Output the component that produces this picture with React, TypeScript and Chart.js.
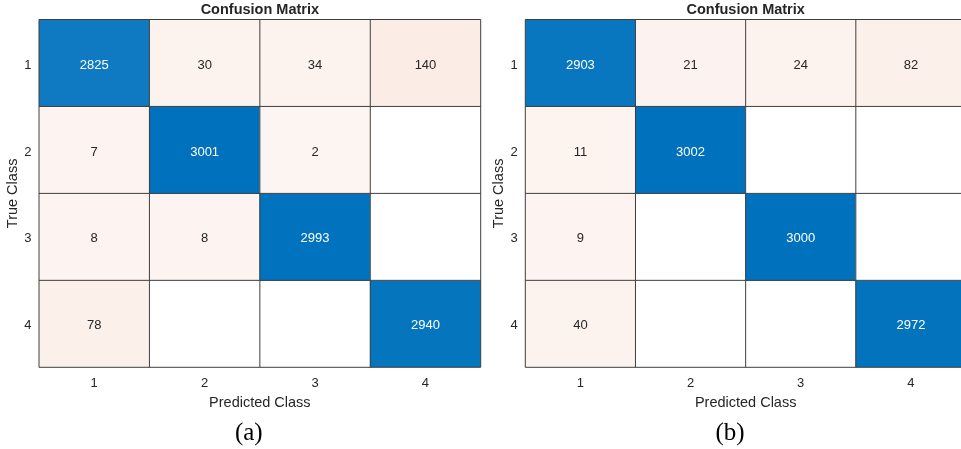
import React, { useEffect, useRef } from 'react';
import { Chart, registerables } from 'chart.js';

Chart.register(...registerables);

// Class labels shared by both axes
const classLabels = ['1', '2', '3', '4'];

// Panel (a): rows are true classes, columns are predicted classes
const countsA1 = [2825, 30, 34, 140];
const countsA2 = [7, 3001, 2, 0];
const countsA3 = [8, 8, 2993, 0];
const countsA4 = [78, 0, 0, 2940];

// Panel (b)
const countsB1 = [2903, 21, 24, 82];
const countsB2 = [11, 3002, 0, 0];
const countsB3 = [9, 0, 3000, 0];
const countsB4 = [40, 0, 0, 2972];

const matrixA = [countsA1, countsA2, countsA3, countsA4];
const matrixB = [countsB1, countsB2, countsB3, countsB4];

const SANS = '"Liberation Sans", Arial, Helvetica, sans-serif';
const SERIF = '"Liberation Serif", "Times New Roman", serif';
const TEXT = '#262626';
const DIAG_RGB = [0, 114, 189];
const OFF_RGB = [217, 83, 25];
const HEIGHT = 449;

function mix(rgb: number[], t: number): string {
  const k = Math.max(0, Math.min(1, t));
  const c = rgb.map((v) => Math.round(255 + (v - 255) * k));
  return `rgb(${c[0]},${c[1]},${c[2]})`;
}

function cellColor(v: number, diagonal: boolean, maxVal: number): string {
  if (v <= 0) return '#ffffff';
  return diagonal ? mix(DIAG_RGB, v / maxVal) : mix(OFF_RGB, 0.06 + v / maxVal);
}

// Thin lines separating the cells, drawn on the chart's own scales
const cellGridPlugin = {
  id: 'cellGrid',
  afterDatasetsDraw(chart: any, _args: any, opts: any) {
    const { ctx, chartArea: a, scales } = chart;
    const n = chart.data.labels.length;
    ctx.save();
    ctx.strokeStyle = opts.color;
    ctx.lineWidth = 1;
    ctx.beginPath();
    for (let i = 0; i <= n; i++) {
      const px = scales.x.getPixelForValue(i - 0.5);
      ctx.moveTo(px, a.top);
      ctx.lineTo(px, a.bottom);
      const py = scales.y.getPixelForValue(i + 0.5);
      ctx.moveTo(a.left, py);
      ctx.lineTo(a.right, py);
    }
    ctx.stroke();
    ctx.restore();
  },
};

// Count written in the middle of every non-empty cell
const cellLabelPlugin = {
  id: 'cellLabels',
  afterDatasetsDraw(chart: any, _args: any, opts: any) {
    const { ctx } = chart;
    ctx.save();
    ctx.font = `${opts.size}px ${SANS}`;
    ctx.textAlign = 'center';
    ctx.textBaseline = 'middle';
    chart.data.datasets.forEach((ds: any, r: number) => {
      const meta = chart.getDatasetMeta(r);
      meta.data.forEach((el: any, c: number) => {
        const v = ds.counts[c];
        if (!v) return;
        const { x, y, base } = el.getProps(['x', 'y', 'base'], true);
        ctx.fillStyle = r === c ? '#ffffff' : TEXT;
        ctx.fillText(String(v), x, (y + base) / 2 + opts.dy);
      });
    });
    ctx.restore();
  },
};

// Sub-figure caption such as "(a)"
const captionPlugin = {
  id: 'caption',
  afterDraw(chart: any, _args: any, opts: any) {
    const { ctx } = chart;
    ctx.save();
    ctx.font = `${opts.size}px ${SERIF}`;
    ctx.fillStyle = '#000000';
    ctx.textAlign = 'center';
    ctx.textBaseline = 'middle';
    ctx.fillText(opts.text, opts.x, opts.y);
    ctx.restore();
  },
};

type PanelProps = {
  matrix: number[][];
  caption: string;
  left: number;
  width: number;
  padRight: number;
  yAxisWidth: number;
  yTitlePad: number;
  captionX: number;
};

function MatrixPanel(p: PanelProps) {
  const ref = useRef<HTMLCanvasElement | null>(null);

  useEffect(() => {
    if (!ref.current) return;
    const maxVal = Math.max(...p.matrix.flat());
    const datasets = p.matrix.map((row, r) => ({
      label: classLabels[r],
      data: row.map(() => [r + 0.5, r + 1.5]),
      counts: row,
      backgroundColor: row.map((v, c) => cellColor(v, r === c, maxVal)),
      borderWidth: 0,
      grouped: false,
      barPercentage: 1,
      categoryPercentage: 1,
    }));

    const chart = new Chart(ref.current, {
      type: 'bar',
      data: { labels: classLabels, datasets: datasets as any },
      plugins: [cellGridPlugin, cellLabelPlugin, captionPlugin],
      options: {
        responsive: false,
        animation: false,
        events: [],
        layout: { padding: { left: 0, right: p.padRight, top: 0, bottom: 31.7 } },
        plugins: {
          legend: { display: false },
          tooltip: { enabled: false },
          title: {
            display: true,
            text: 'Confusion Matrix',
            fullSize: false,
            color: TEXT,
            font: { family: SANS, size: 14.5, weight: 'bold', lineHeight: 1.2 },
            padding: { top: 1, bottom: 1.1 },
          },
          cellGrid: { color: '#3f3f3f' },
          cellLabels: { size: 13, dy: 2 },
          caption: { text: p.caption, x: p.captionX, y: 433, size: 25 },
        } as any,
        scales: {
          x: {
            type: 'category',
            offset: true,
            grid: { display: false, drawTicks: false },
            border: { display: false },
            ticks: { color: TEXT, font: { family: SANS, size: 13 }, padding: 8.6, maxRotation: 0 },
            title: {
              display: true,
              text: 'Predicted Class',
              color: TEXT,
              font: { family: SANS, size: 14.5, lineHeight: 1.2 },
              padding: { top: 0, bottom: 5.6 },
            },
            afterFit: (s: any) => {
              s.height = 50;
            },
          },
          y: {
            type: 'linear',
            reverse: true,
            min: 0.5,
            max: classLabels.length + 0.5,
            afterBuildTicks: (s: any) => {
              s.ticks = classLabels.map((_, i) => ({ value: i + 1 }));
            },
            grid: { display: false, drawTicks: false },
            border: { display: false },
            ticks: {
              color: TEXT,
              font: { family: SANS, size: 13 },
              padding: 7.5,
              labelOffset: 2,
              callback: (v: any) => classLabels[Number(v) - 1],
            },
            title: {
              display: true,
              text: 'True Class',
              color: TEXT,
              font: { family: SANS, size: 14.5, lineHeight: 1.2 },
              padding: { top: p.yTitlePad, bottom: 0 },
            },
            afterFit: (s: any) => {
              s.width = p.yAxisWidth;
            },
          },
        },
      } as any,
    });
    return () => chart.destroy();
  }, []);

  return (
    <canvas
      ref={ref}
      width={p.width}
      height={HEIGHT}
      style={{ position: 'absolute', left: p.left, top: 0, width: p.width, height: HEIGHT, display: 'block' }}
    />
  );
}

export default function App() {
  return (
    <div
      style={{
        position: 'fixed',
        left: 0,
        top: 0,
        width: 961,
        height: HEIGHT,
        overflow: 'hidden',
        background: '#ffffff',
      }}
    >
      <MatrixPanel
        matrix={matrixA}
        caption="(a)"
        left={0}
        width={482}
        padRight={1.3}
        yAxisWidth={39}
        yTitlePad={4.3}
        captionX={248.8}
      />
      <MatrixPanel
        matrix={matrixB}
        caption="(b)"
        left={480}
        width={490}
        padRight={4}
        yAxisWidth={45.3}
        yTitlePad={10.5}
        captionX={250}
      />
    </div>
  );
}
